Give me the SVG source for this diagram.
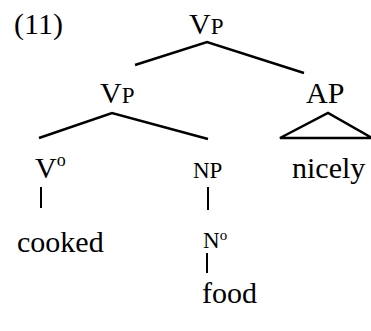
<svg xmlns="http://www.w3.org/2000/svg" width="371" height="331" viewBox="0 0 371 331">
<style>
text{font-family:'Liberation Serif','Times New Roman',serif;fill:#000}
.w{font-size:30px}
.l{font-size:30px}
.s{font-size:23px}
.e{stroke:#000;stroke-width:2.5;fill:none;stroke-linecap:butt}
.t{stroke:#000;stroke-width:2;fill:none}
</style>
<rect width="371" height="331" fill="#fff"/>
<text class="w" x="14" y="34" font-size="31">(11)</text>
<g id="vp-top"><text class="l" x="189" y="34">V<tspan class="s">P</tspan></text></g>
<g id="vp"><text class="l" x="100" y="103">V<tspan class="s">P</tspan></text></g>
<g id="ap"><text class="l" x="306" y="103">AP</text></g>
<g id="v0"><text class="l" x="35" y="178">V<tspan font-size="18" dy="-12">o</tspan></text></g>
<g id="np"><text class="s" x="193" y="178">NP</text></g>
<g id="nicely"><text class="w" x="292" y="178">nicely</text></g>
<g id="cooked"><text class="w" x="17" y="252">cooked</text></g>
<g id="n0"><text class="s" x="203" y="248">N<tspan font-size="15" dy="-8">o</tspan></text></g>
<g id="food"><text class="w" x="202" y="303">food</text></g>
<g id="connectors">
<polyline class="e" points="135,65 207,42 304,73"/>
<polyline class="e" points="39,138 112,113 208,139"/>
<polygon class="e" points="280,138 328,113 372,138"/>
<line class="t" x1="41" y1="187" x2="41" y2="208"/>
<line class="t" x1="208" y1="187" x2="208" y2="210"/>
<line class="t" x1="207" y1="253" x2="207" y2="273"/>
</g>
</svg>
